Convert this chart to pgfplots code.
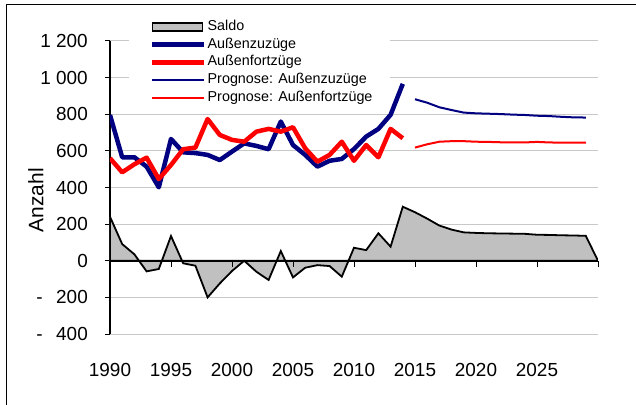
\documentclass[border=0pt]{standalone}
\usepackage{pgfplots}
\pgfplotsset{compat=1.18}
\usepackage{fontspec}
\setmainfont{Liberation Sans}
\definecolor{navy}{HTML}{000080}
\definecolor{saldogray}{HTML}{C0C0C0}
\definecolor{gridgray}{HTML}{C8C8C8}

\pgfplotstableread{
year saldo
1990 240
1991 91
1992 35
1993 -58
1994 -45
1995 135
1996 -14
1997 -27
1998 -200
1999 -124
2000 -56
2001 0
2002 -60
2003 -105
2004 53
2005 -91
2006 -38
2007 -24
2008 -29
2009 -87
2010 71
2011 58
2012 150
2013 77
2014 295
2015 265
2016 230
2017 192
2018 170
2019 155
2020 152
2021 150
2022 149
2023 148
2024 147
2025 142
2026 141
2027 139
2028 138
2029 136
2030 0
}\saldotab

\pgfplotstableread{
year zu fort
1990 796 560
1991 565 483
1992 565 527
1993 514 563
1994 401 446
1995 665 523
1996 592 609
1997 588 618
1998 578 774
1999 550 687
2000 596 660
2001 641 650
2002 627 705
2003 609 720
2004 760 705
2005 632 729
2006 578 614
2007 514 541
2008 546 578
2009 556 650
2010 610 546
2011 678 632
2012 720 565
2013 797 720
2014 966 669
}\histtab

\pgfplotstableread{
year zu fort
2015 882 618
2016 863 636
2017 838 650
2018 823 653
2019 809 653
2020 805 650
2021 803 649
2022 801 647
2023 798 646
2024 796 646
2025 792 649
2026 790 646
2027 786 645
2028 783 645
2029 782 645
}\progtab

\begin{document}
\begin{tikzpicture}
\useasboundingbox (-110bp,-71bp) rectangle (526bp,334bp);
\draw[line width=1.4bp] (-103.5bp,-90bp) -- (-103.5bp,329.5bp) -- (560bp,329.5bp);
\begin{axis}[
  at={(0,0)}, anchor=south west, scale only axis, width=488bp, height=293bp,
  xmin=1990, xmax=2030, ymin=-400, ymax=1200,
  axis x line*=bottom, axis y line*=left,
  x axis line style={draw=none},
  y axis line style={line width=1.2bp, black, -},
  xtick={1990,1995,...,2025},
  xticklabels={1990,1995,2000,2005,2010,2015,2020,2025},
  x tick style={draw=none},
  ytick={-400,-200,...,1200},
  yticklabels={{-\hspace{13.5bp}400},{-\hspace{13.5bp}200},0,200,400,600,800,{1 000},{1 200}},
  y tick style={line width=1bp, black},
  tick align=outside, major tick length=5bp,
  ymajorgrids, grid style={color=gridgray, line width=1bp},
  tick label style={font=\fontsize{19}{22}\selectfont, inner sep=0pt},
  xticklabel style={anchor=north, yshift=-24bp},
  yticklabel style={anchor=east, xshift=-17bp},
  every axis y label/.style={at={(axis description cs:-0.152,0.457)}, anchor=center, rotate=90, font=\fontsize{21}{24}\selectfont},
  ylabel={Anzahl},
  legend style={at={(axis description cs:0.0389,1.0846)}, anchor=north west, draw=none, fill=white,
    inner xsep=17bp, inner ysep=2bp, font=\fontsize{14.4}{17}\selectfont, row sep=0.75bp,
    nodes={inner sep=1bp, text height=11bp, text depth=4bp}},
  legend cell align=left,
  legend image code/.code={\path (0bp,0bp); \draw[#1] (4bp,0bp) -- (56bp,0bp);},
]
\addplot[fill=saldogray, draw=black, line width=1.8bp, line join=miter,
  legend image code/.code={\path (0bp,0bp); \draw[fill=saldogray, draw=black, line width=1.8bp] (4bp,-4bp) rectangle (54bp,4bp);}]
  table[x=year, y=saldo] {\saldotab} \closedcycle;
\addlegendentry{Saldo}
\addplot[navy, line width=4.5bp, line join=round] table[x=year, y=zu] {\histtab};
\addlegendentry{Außenzuzüge}
\addplot[red, line width=4.5bp, line join=round] table[x=year, y=fort] {\histtab};
\addlegendentry{Außenfortzüge}
\addplot[navy, line width=2bp] table[x=year, y=zu] {\progtab};
\addlegendentry{Prognose: Außenzuzüge}
\addplot[red, line width=2bp] table[x=year, y=fort] {\progtab};
\addlegendentry{Prognose: Außenfortzüge}
\end{axis}
\begin{axis}[
  at={(0,0)}, anchor=south west, scale only axis, width=488bp, height=293bp,
  xmin=1990, xmax=2030, ymin=-400, ymax=1200,
  axis x line=middle, axis y line=none,
  x axis line style={line width=2.2bp, black, -},
  xtick={1995,2000,...,2030}, xticklabels={},
  ytick=\empty,
  x tick style={line width=1bp, black},
  tick align=outside, major tick length=6bp,
]
\end{axis}
\end{tikzpicture}
\end{document}
